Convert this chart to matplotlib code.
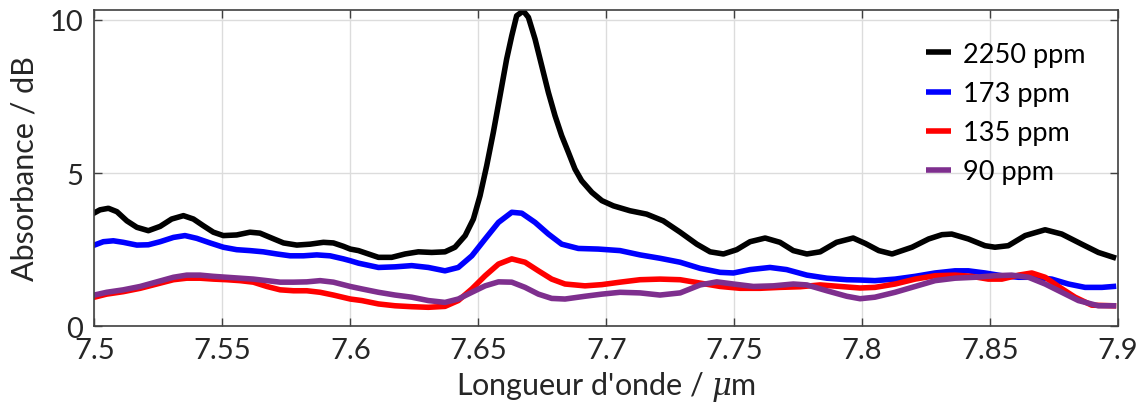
import matplotlib
matplotlib.use("Agg")
import matplotlib.pyplot as plt

# ---- data ----
x_2250 = [7.5, 7.5022, 7.5055, 7.5088, 7.5127, 7.5166, 7.5211, 7.5257, 7.5302, 7.5348, 7.5387,
          7.5426, 7.5465, 7.5504, 7.5556, 7.5608, 7.5647, 7.5687, 7.5739, 7.5791, 7.5843,
          7.5895, 7.5934, 7.5973, 7.6, 7.6032, 7.6110, 7.6162, 7.6214, 7.6266, 7.6318,
          7.6370, 7.6409, 7.6449, 7.6481, 7.6507, 7.6533, 7.6559, 7.6585, 7.6611, 7.6631,
          7.6650, 7.6676, 7.6696, 7.6722, 7.6748, 7.6774, 7.6800, 7.6826, 7.6852, 7.6878,
          7.6904, 7.6944, 7.6983, 7.7028, 7.7093, 7.7158, 7.7223, 7.7289, 7.7354, 7.7406,
          7.7458, 7.7510, 7.7562, 7.7621, 7.7679, 7.7731, 7.7784, 7.7836, 7.7900, 7.7965,
          7.8013, 7.8065, 7.8117, 7.8195, 7.8260, 7.8312, 7.8350, 7.8415, 7.8480, 7.8519,
          7.8571, 7.8637, 7.8715, 7.8780, 7.8858, 7.8923, 7.8982]
y_2250 = [3.70, 3.80, 3.85, 3.74, 3.44, 3.23, 3.12, 3.26, 3.50, 3.61, 3.50,
          3.28, 3.07, 2.96, 2.98, 3.07, 3.04, 2.90, 2.72, 2.65, 2.68,
          2.74, 2.72, 2.61, 2.52, 2.47, 2.25, 2.25, 2.36, 2.43, 2.41,
          2.43, 2.58, 2.96, 3.50, 4.26, 5.24, 6.33, 7.52, 8.72, 9.48,
          10.13, 10.29, 10.08, 9.37, 8.50, 7.63, 6.87, 6.22, 5.68, 5.13,
          4.75, 4.37, 4.10, 3.93, 3.77, 3.66, 3.44, 3.07, 2.68, 2.43,
          2.36, 2.50, 2.76, 2.88, 2.74, 2.47, 2.36, 2.43, 2.74, 2.88,
          2.70, 2.47, 2.36, 2.58, 2.85, 2.99, 3.01, 2.85, 2.63, 2.58,
          2.63, 2.96, 3.15, 3.01, 2.68, 2.41, 2.25]

x_173 = [7.5, 7.5035, 7.5074, 7.5113, 7.5166, 7.5211, 7.5257, 7.5309, 7.5354, 7.5400, 7.5452,
         7.5504, 7.5556, 7.5608, 7.5660, 7.5713, 7.5765, 7.5817, 7.5869, 7.5921, 7.5973,
         7.6, 7.6032, 7.6110, 7.6175, 7.6240, 7.6305, 7.6370, 7.6422, 7.6475, 7.6527,
         7.6579, 7.6631, 7.6670, 7.6722, 7.6774, 7.6826, 7.6891, 7.6969, 7.7054, 7.7132,
         7.7210, 7.7289, 7.7367, 7.7445, 7.7497, 7.7562, 7.7640, 7.7705, 7.7784, 7.7862,
         7.7940, 7.7992, 7.8050, 7.8129, 7.8207, 7.8285, 7.8363, 7.8415, 7.8480, 7.8546,
         7.8611, 7.8676, 7.8741, 7.8806, 7.8871, 7.8937, 7.8982]
y_173 = [2.65, 2.76, 2.79, 2.74, 2.65, 2.66, 2.76, 2.90, 2.96, 2.87, 2.72,
         2.58, 2.50, 2.47, 2.43, 2.36, 2.30, 2.30, 2.33, 2.30, 2.20,
         2.14, 2.06, 1.92, 1.94, 1.98, 1.92, 1.81, 1.92, 2.30, 2.85,
         3.39, 3.72, 3.69, 3.39, 3.01, 2.68, 2.54, 2.52, 2.47, 2.33,
         2.22, 2.09, 1.89, 1.76, 1.74, 1.85, 1.92, 1.85, 1.67, 1.57,
         1.52, 1.51, 1.49, 1.54, 1.63, 1.74, 1.81, 1.81, 1.74, 1.65,
         1.60, 1.60, 1.54, 1.38, 1.27, 1.27, 1.30]

x_135 = [7.5, 7.5048, 7.5113, 7.5179, 7.5244, 7.5309, 7.5361, 7.5413, 7.5465, 7.5517, 7.5569,
         7.5621, 7.5674, 7.5726, 7.5778, 7.5830, 7.5882, 7.5934, 7.6, 7.6045, 7.6110,
         7.6175, 7.6240, 7.6305, 7.6370, 7.6422, 7.6475, 7.6527, 7.6579, 7.6631, 7.6683,
         7.6735, 7.6787, 7.6839, 7.6917, 7.6983, 7.7054, 7.7132, 7.7210, 7.7289, 7.7367,
         7.7445, 7.7523, 7.7601, 7.7679, 7.7757, 7.7836, 7.7914, 7.7992, 7.8050, 7.8129,
         7.8207, 7.8285, 7.8363, 7.8428, 7.8493, 7.8546, 7.8611, 7.8663, 7.8715, 7.8767,
         7.8832, 7.8897, 7.8982]
y_135 = [0.95, 1.05, 1.13, 1.24, 1.38, 1.52, 1.57, 1.57, 1.54, 1.52, 1.49,
         1.44, 1.30, 1.19, 1.16, 1.16, 1.11, 1.02, 0.89, 0.84, 0.73,
         0.67, 0.64, 0.62, 0.65, 0.84, 1.22, 1.65, 2.03, 2.20, 2.09,
         1.81, 1.54, 1.38, 1.32, 1.36, 1.44, 1.52, 1.54, 1.52, 1.41,
         1.30, 1.24, 1.24, 1.27, 1.29, 1.35, 1.30, 1.25, 1.27, 1.38,
         1.54, 1.65, 1.67, 1.63, 1.54, 1.54, 1.67, 1.74, 1.60, 1.30,
         0.95, 0.69, 0.67]

x_90 = [7.5, 7.5048, 7.5113, 7.5179, 7.5244, 7.5309, 7.5361, 7.5413, 7.5465, 7.5517, 7.5569,
        7.5621, 7.5674, 7.5726, 7.5778, 7.5830, 7.5882, 7.5934, 7.6, 7.6045, 7.6110,
        7.6175, 7.6240, 7.6305, 7.6370, 7.6422, 7.6475, 7.6527, 7.6579, 7.6631, 7.6683,
        7.6735, 7.6787, 7.6839, 7.6917, 7.6983, 7.7054, 7.7132, 7.7210, 7.7289, 7.7367,
        7.7432, 7.7497, 7.7575, 7.7653, 7.7731, 7.7784, 7.7862, 7.7940, 7.7992, 7.8050,
        7.8129, 7.8207, 7.8285, 7.8363, 7.8441, 7.8519, 7.8584, 7.8650, 7.8715, 7.8780,
        7.8845, 7.8923, 7.8982]
y_90 = [1.02, 1.11, 1.19, 1.30, 1.45, 1.60, 1.67, 1.67, 1.63, 1.60, 1.57,
        1.54, 1.49, 1.44, 1.44, 1.45, 1.49, 1.44, 1.30, 1.22, 1.11,
        1.02, 0.95, 0.84, 0.78, 0.89, 1.11, 1.32, 1.45, 1.44, 1.27,
        1.05, 0.91, 0.89, 0.98, 1.05, 1.11, 1.09, 1.02, 1.09, 1.35,
        1.45, 1.38, 1.30, 1.32, 1.38, 1.35, 1.16, 0.98, 0.90, 0.95,
        1.11, 1.30, 1.49, 1.57, 1.60, 1.65, 1.67, 1.60, 1.38, 1.11,
        0.84, 0.67, 0.67]

labels = ["2250 ppm", "173 ppm", "135 ppm", "90 ppm"]
colors = ["#000000", "#0000ff", "#ff0000", "#7e2f8e"]
x_ticks = [7.5, 7.55, 7.6, 7.65, 7.7, 7.75, 7.8, 7.85, 7.9]
x_ticklabels = ["7.5", "7.55", "7.6", "7.65", "7.7", "7.75", "7.8", "7.85", "7.9"]
y_ticks = [0, 5, 10]

plt.rcParams['font.family'] = ['Lato', 'DejaVu Sans']
plt.rcParams['mathtext.fontset'] = 'custom'
plt.rcParams['mathtext.it'] = 'DejaVu Serif:italic'

fig = plt.figure(figsize=(11.41, 4.14), dpi=100)
ax = fig.add_axes([0.0827, 0.2094, 0.8972, 0.7648])

series = [(x_2250, y_2250), (x_173, y_173), (x_135, y_135), (x_90, y_90)]
for (xs, ys), lab, c in zip(series, labels, colors):
    ax.plot(xs, ys, color=c, lw=4.0, label=lab, solid_joinstyle='round')

ax.set_xlim(7.5, 7.9)
ax.set_ylim(0, 10.33)
ax.set_xticks(x_ticks)
ax.set_xticklabels(x_ticklabels)
ax.set_yticks(y_ticks)
ax.grid(True, color="#dcdcdc", lw=1.0)
ax.set_axisbelow(True)
ax.tick_params(direction='in', top=True, right=True, length=6, width=1,
               color="#404040", labelsize=21, labelcolor="#262626", pad=8)
for s in ax.spines.values():
    s.set_color("#404040")
    s.set_linewidth(1.2)

ax.set_xlabel(r"Longueur d'onde / $\mu$m", fontsize=22, color="#262626", labelpad=4)
ax.set_ylabel("Absorbance / dB", fontsize=22, color="#262626", labelpad=8)

leg = ax.legend(loc='upper right', frameon=False, fontsize=19.5, handlelength=0.9,
                handletextpad=0.45, labelspacing=0.52, bbox_to_anchor=(0.992, 0.975))
for h in leg.get_lines():
    h.set_solid_capstyle('butt')
for t in leg.get_texts():
    t.set_color("#000000")

fig.savefig("out.png", dpi=100)
